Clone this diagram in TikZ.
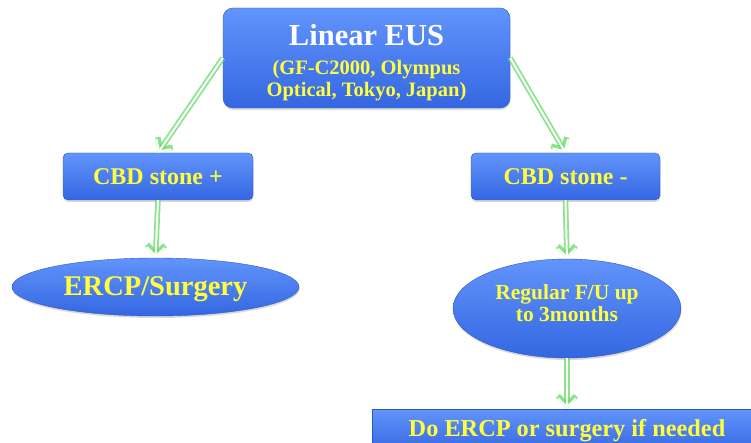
\documentclass[tikz,border=0pt]{standalone}
\usepackage{fontspec}
\setmainfont{Liberation Serif}
\usetikzlibrary{arrows.meta,shapes.geometric,shadows,positioning}
\definecolor{boxtop}{RGB}{98,148,252}
\definecolor{boxbot}{RGB}{52,102,226}
\definecolor{labelyellow}{RGB}{255,255,60}
\definecolor{glowgreen}{RGB}{100,220,100}

\begin{document}
\begin{tikzpicture}[x=1pt, y=-1pt,
  box/.style={draw=boxbot!85!black, line width=0.4pt, top color=boxtop, bottom color=boxbot,
    text=labelyellow, inner sep=0pt,
    drop shadow={opacity=0.3, shadow xshift=0.5pt, shadow yshift=-2pt}},
  flow/.style={draw=white, line width=2pt, -{Straight Barb[length=9pt,width=18pt]},
    preaction={draw=glowgreen, line width=5.5pt, opacity=0.75, -{Straight Barb[length=9pt,width=18pt]}}}]
  \clip (0,0) rectangle (751,443);
  \fill[white] (0,0) rectangle (751,443);
  % boxes
  \node[box, rounded corners=10pt, minimum width=287pt, minimum height=100pt] (eus) at (366.5,58) {};
  \node[align=center, text=labelyellow, font=\bfseries\fontsize{20.5}{22}\selectfont]
    (euslabel) at ([yshift=-5pt]eus.center)
    {{\color{white}\fontsize{30.5}{31}\selectfont Linear EUS}\\[7pt](GF-C2000, Olympus\\Optical, Tokyo, Japan)};
  \node[box, rounded corners=5pt, minimum width=190pt, minimum height=47pt,
    font=\bfseries\fontsize{24}{26}\selectfont] (pos) at (158,176.5) {CBD stone +};
  \node[box, rounded corners=5pt, minimum width=189pt, minimum height=47pt,
    font=\bfseries\fontsize{24}{26}\selectfont] (neg) at (565.5,176.5) {CBD stone -};
  \node[box, ellipse, minimum width=287pt, minimum height=58pt] (ercp) at (155.5,287) {};
  \node[text=labelyellow, font=\bfseries\fontsize{28.5}{30}\selectfont]
    (ercplabel) at ([yshift=-2pt]ercp.center) {ERCP/Surgery};
  \node[box, ellipse, minimum width=228pt, minimum height=99pt] (fu) at (567,308.5) {};
  \node[align=center, text=labelyellow, font=\bfseries\fontsize{21.5}{22}\selectfont]
    (fulabel) at ([yshift=5pt]fu.center) {Regular F/U up\\to 3months};
  \node[box, minimum width=390pt, minimum height=44pt,
    font=\bfseries\fontsize{24.3}{26}\selectfont] (redo) at (567,431) {Do ERCP or surgery if needed};
  % arrows
  \draw (eus.west) edge[flow] (pos.north);
  \draw (eus.east) edge[flow] (neg.north);
  \draw (pos.south) edge[flow] (ercp.north);
  \draw (neg.south) edge[flow] (fu.north);
  \draw (fu.south) edge[flow] (redo.north);
\end{tikzpicture}
\end{document}
